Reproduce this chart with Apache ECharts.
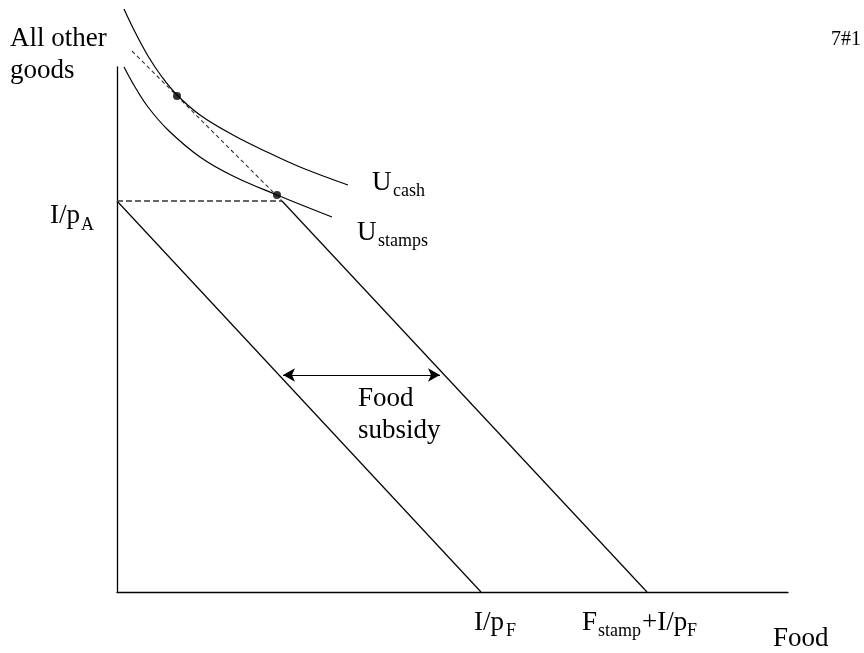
<!DOCTYPE html>
<html>
<head>
<meta charset="utf-8">
<script src="https://cdn.jsdelivr.net/npm/echarts@6/dist/echarts.min.js"></script>
<style>
  html, body { margin: 0; padding: 0; background: #fff; }
  #chart { width: 864px; height: 653px; }
</style>
</head>
<body>
<div id="chart"></div>
<script>
// ---- Data (Food on x, All other goods on y; arbitrary units) ----
const budgetCash = [[0, 391], [364, 0]];              // I/pA -> I/pF
const stampFlat = [[0, 391], [165, 391]];             // food-stamp flat segment
const stampSlope = [[165, 391], [530, 0]];            // -> F_stamp + I/pF
const stampExtension = [[15, 541], [165, 391]];       // cash equivalent budget
const uCash = [[7, 583], [18, 560], [31, 536], [45, 515], [60, 497], [83, 477], [116, 457], [150, 440], [183, 425], [231, 407]];
const uStamps = [[7, 525], [18, 505], [31, 485], [51, 462], [83, 435], [116, 416], [160, 397], [215, 375]];
const optimumPoints = [[60, 496], [160, 397]];
const subsidyArrow = [[166, 217], [323, 217]];

// ---- Text ----
const yAxisTitle = 'All other\ngoods';
const xAxisTitle = 'Food';
const pageTag = '7#1';
const subsidyText = 'Food\nsubsidy';
const tickMain = ['I/p', 'I/p', 'F', '+I/p'];
const tickSub = ['A', 'F', 'stamp', 'F'];
const curveMain = ['U', 'U'];
const curveSub = ['cash', 'stamps'];

const FONT = 'Liberation Serif, serif';
const chart = echarts.init(document.getElementById('chart'), null, { renderer: 'canvas' });

function txt(s, x, baseline, size, align) {
  return {
    type: 'text', x: x, y: baseline - 0.34 * size, silent: true,
    style: { text: s, fontFamily: FONT, fontSize: size, fill: '#000',
             align: align || 'left', verticalAlign: 'middle' }
  };
}
function txt2(s, x, baseline, size, lh) {
  return {
    type: 'text', x: x, y: baseline - 0.34 * size - lh / 2, silent: true,
    style: { text: s, fontFamily: FONT, fontSize: size, fill: '#000',
             align: 'left', verticalAlign: 'top', lineHeight: lh }
  };
}

const M = 27, S = 18;
const graphics = [
  txt2(yAxisTitle, 10, 48, M, 32),
  txt(pageTag, 861, 47, 20, 'right'),
  txt(tickMain[0], 50, 225, M), txt(tickSub[0], 81, 231, S),
  txt(curveMain[0], 372, 192, M), txt(curveSub[0], 393, 197, S),
  txt(curveMain[1], 357, 242, M), txt(curveSub[1], 378, 247, S),
  txt2(subsidyText, 358, 408, M, 32),
  txt(tickMain[1], 474, 632, M), txt(tickSub[1], 506, 637, S),
  txt(tickMain[2], 582, 632, M), txt(tickSub[2], 598, 637, S),
  txt(tickMain[3], 642, 632, M), txt(tickSub[3], 687, 637, S),
  txt(xAxisTitle, 773, 648, M)
];

const solid = { color: '#000', width: 1.2 };
function lineSeries(data, style, smooth) {
  return {
    type: 'line', data: data, symbol: 'none', clip: false, silent: true,
    smooth: smooth || false, lineStyle: style, animation: false
  };
}

chart.setOption({
  animation: false,
  backgroundColor: '#fff',
  grid: { left: 117, top: 67, right: 76, bottom: 61 },
  xAxis: {
    type: 'value', min: 0, max: 671,
    axisLine: { show: true, onZero: false, lineStyle: { color: '#000', width: 1.3 } },
    axisTick: { show: false }, axisLabel: { show: false }, splitLine: { show: false }
  },
  yAxis: {
    type: 'value', min: 0, max: 525,
    axisLine: { show: true, onZero: false, lineStyle: { color: '#000', width: 1.3 } },
    axisTick: { show: false }, axisLabel: { show: false }, splitLine: { show: false }
  },
  series: [
    lineSeries(budgetCash, solid),
    lineSeries(stampFlat, { color: '#333', width: 1.3, type: [6, 3] }),
    lineSeries(stampSlope, solid),
    lineSeries(stampExtension, { color: '#333', width: 1.1, type: [4, 3] }),
    lineSeries(uCash, solid, 0.4),
    lineSeries(uStamps, solid, 0.4),
    {
      type: 'scatter', data: optimumPoints, symbol: 'circle', symbolSize: 8,
      itemStyle: { color: '#000' }, silent: true, animation: false
    },
    {
      type: 'line', data: [], silent: true, animation: false,
      markLine: {
        silent: true, animation: false,
        symbol: ['arrow', 'arrow'], symbolSize: [10, 12],
        label: { show: false },
        lineStyle: { color: '#000', width: 1.2, type: 'solid' },
        emphasis: { disabled: true },
        data: [[{ coord: subsidyArrow[0] }, { coord: subsidyArrow[1] }]]
      }
    }
  ],
  graphic: graphics
});
</script>
</body>
</html>
